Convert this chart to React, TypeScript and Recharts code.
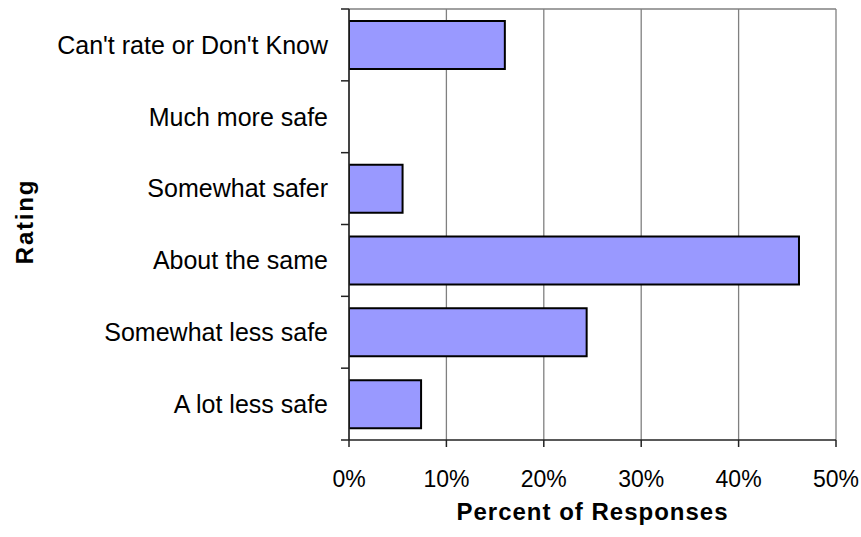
import React from 'react';
import { BarChart, Bar, XAxis, YAxis, CartesianGrid } from 'recharts';

const categories = [
  "Can't rate or Don't Know",
  'Much more safe',
  'Somewhat safer',
  'About the same',
  'Somewhat less safe',
  'A lot less safe',
];
const percentValues = [16.0, 0, 5.5, 46.2, 24.4, 7.4];
const xTicks = [0, 10, 20, 30, 40, 50];
const xTitle = 'Percent of Responses';
const yTitle = 'Rating';

const data = categories.map((c, i) => ({ name: c, value: percentValues[i] }));

const W = 861;
const H = 537;
const M = { top: 9, right: 25, bottom: 0, left: 0 };
const Y_AXIS_W = 349;
const X_AXIS_H = 97;
const PLOT_H = H - M.top - M.bottom - X_AXIS_H;
const BAND = PLOT_H / categories.length;
const FONT = '"Liberation Sans", Arial, sans-serif';
const AXIS_COLOR = '#222';

const YTick = (props: any) => {
  const { x, y, payload, index } = props;
  const top = y - BAND / 2;
  const bottom = y + BAND / 2;
  return (
    <g>
      <line x1={x - 8} x2={x} y1={top} y2={top} stroke={AXIS_COLOR} strokeWidth={1.5} />
      {index === categories.length - 1 && (
        <line x1={x - 8} x2={x} y1={bottom} y2={bottom} stroke={AXIS_COLOR} strokeWidth={1.5} />
      )}
      <text x={x - 21} y={y} dy="0.35em" textAnchor="end" fontFamily={FONT} fontSize={25} fill="#000">
        {payload.value}
      </text>
    </g>
  );
};

const XTitle = (props: any) => {
  const vb = props.viewBox || {};
  return (
    <text x={vb.x + vb.width / 2} y={vb.y + 80} textAnchor="middle" fontFamily={FONT} fontSize={24} fontWeight="bold" letterSpacing={1} fill="#000">
      {xTitle}
    </text>
  );
};

const YTitle = (props: any) => {
  const vb = props.viewBox || {};
  const cx = 25;
  const cy = vb.y + vb.height / 2 - 3;
  return (
    <text x={cx} y={cy} transform={`rotate(-90 ${cx} ${cy})`} dy="0.35em" textAnchor="middle" fontFamily={FONT} fontSize={24} fontWeight="bold" letterSpacing={1.8} fill="#000">
      {yTitle}
    </text>
  );
};

export default function App() {
  return (
    <div style={{ position: 'absolute', left: 0, top: 0, width: W, height: H, background: '#fff' }}>
      <BarChart width={W} height={H} data={data} layout="vertical" margin={M} barSize={48}>
        <CartesianGrid
          stroke="#808080"
          strokeWidth={1.3}
          vertical={true}
          horizontal={true}
          horizontalCoordinatesGenerator={(p: any) => [p.offset.top]}
        />
        <XAxis
          type="number"
          domain={[0, 50]}
          ticks={xTicks}
          tickFormatter={(v: number) => `${v}%`}
          height={X_AXIS_H}
          stroke={AXIS_COLOR}
          strokeWidth={1.5}
          tickSize={7}
          tickMargin={24}
          tick={{ fontFamily: FONT, fontSize: 23, fill: '#000' }}
          label={<XTitle />}
          allowDataOverflow
        />
        <YAxis
          type="category"
          dataKey="name"
          width={Y_AXIS_W}
          stroke={AXIS_COLOR}
          strokeWidth={1.5}
          tickLine={false}
          tickSize={0}
          tickMargin={0}
          tick={<YTick />}
          interval={0}
          label={<YTitle />}
        />
        <Bar dataKey="value" fill="#9999FF" stroke="#000" strokeWidth={2} isAnimationActive={false} />
      </BarChart>
    </div>
  );
}
